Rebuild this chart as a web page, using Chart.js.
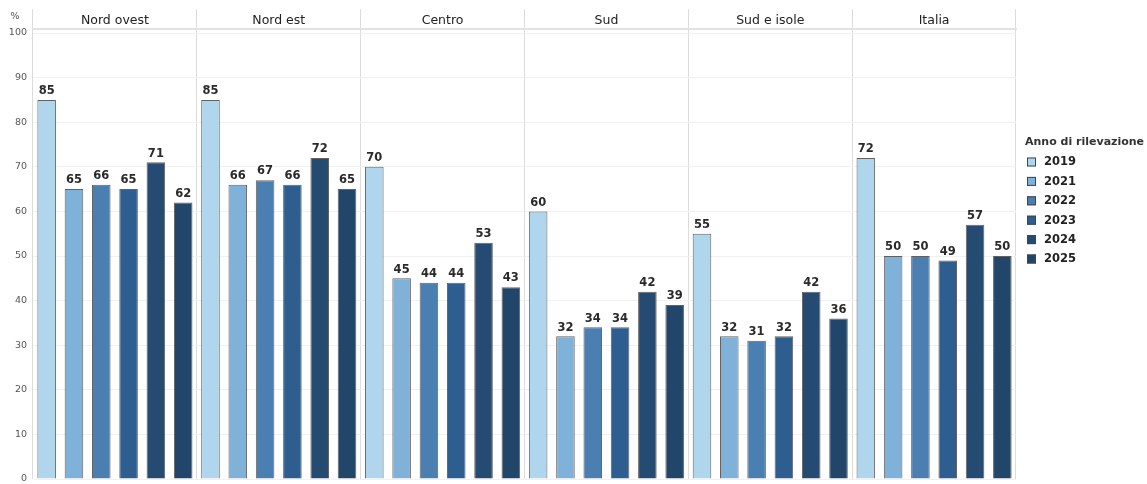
<!DOCTYPE html>
<html>
<head>
<meta charset="utf-8">
<script src="https://cdn.jsdelivr.net/npm/chart.js@4.4.1/dist/chart.umd.min.js"></script>
<style>
  html, body { margin: 0; padding: 0; background: #fff; overflow: hidden; }
  canvas { display: block; }
</style>
</head>
<body>
<canvas id="chart" width="1147" height="484"></canvas>
<script>
// data
const regions = ['Nord ovest', 'Nord est', 'Centro', 'Sud', 'Sud e isole', 'Italia']
const years = ['2019', '2021', '2022', '2023', '2024', '2025']
const values2019 = [85, 85, 70, 60, 55, 72]
const values2021 = [65, 66, 45, 32, 32, 50]
const values2022 = [66, 67, 44, 34, 31, 50]
const values2023 = [65, 66, 44, 34, 32, 49]
const values2024 = [71, 72, 53, 42, 42, 57]
const values2025 = [62, 65, 43, 39, 36, 50]
const yTicks = [0, 10, 20, 30, 40, 50, 60, 70, 80, 90, 100]
const yUnit = '%'
const legendTitle = 'Anno di rilevazione'

const colors = ['#b0d6ee', '#80b1d9', '#4c7fb1', '#2e5e90', '#264b72', '#21466a']
const seriesValues = [values2019, values2021, values2022, values2023, values2024, values2025]
const FONT = '"DejaVu Sans", Verdana, sans-serif'

const datasets = years.map((year, i) => ({
    label: year,
    data: seriesValues[i],
    backgroundColor: colors[i],
    borderColor: 'rgba(45,45,45,0.75)',
    borderWidth: 1,
    borderSkipped: 'bottom'
}))

// numbers above each bar
const valueLabels = {
    id: 'valueLabels',
    afterDatasetsDraw(chart){
        const ctx = chart.ctx
        ctx.save()
        ctx.font = 'bold 11.5px ' + FONT
        ctx.fillStyle = '#2a2a2a'
        ctx.textAlign = 'center'
        ctx.textBaseline = 'bottom'
        chart.data.datasets.forEach((ds, i) => {
            chart.getDatasetMeta(i).data.forEach((bar, j) => {
                ctx.fillText(ds.data[j], bar.x, bar.y - 3)
            })
        })
        ctx.restore()
    }
}

// "%" unit and the legend on the right
const extras = {
    id: 'extras',
    afterDraw(chart){
        const ctx = chart.ctx
        const area = chart.chartArea
        ctx.save()
        ctx.font = '9.5px ' + FONT
        ctx.fillStyle = '#555'
        ctx.textAlign = 'center'
        ctx.textBaseline = 'middle'
        ctx.fillText(yUnit, 15, 17)

        const x = area.right + 9
        ctx.textAlign = 'left'
        ctx.font = 'bold 11px ' + FONT
        ctx.fillStyle = '#333'
        ctx.fillText(legendTitle, x, 142)
        ctx.font = 'bold 11.5px ' + FONT
        chart.data.datasets.forEach((ds, i) => {
            const y = 162 + i * 19.4
            ctx.fillStyle = ds.backgroundColor
            ctx.fillRect(x + 2, y - 4.5, 9, 9)
            ctx.strokeStyle = '#444'
            ctx.lineWidth = 1
            ctx.strokeRect(x + 2.5, y - 4, 8, 8)
            ctx.fillStyle = '#222'
            ctx.fillText(ds.label, x + 19, y + 0.5)
        })
        ctx.restore()
    }
}

const chart = new Chart(document.getElementById('chart'), {
    type: 'bar',
    data: { labels: regions, datasets: datasets },
    plugins: [valueLabels, extras],
    options: {
        responsive: false,
        animation: false,
        devicePixelRatio: 1,
        layout: { padding: { left: 0, right: 131, top: 9, bottom: 5 } },
        datasets: { bar: { categoryPercentage: 1, barPercentage: 0.68 } },
        plugins: {
            legend: { display: false },
            tooltip: { enabled: false }
        },
        scales: {
            x: {
                position: 'top',
                grid: { offset: true, color: '#dcdcdc', lineWidth: 1, tickLength: 20, tickColor: '#dcdcdc' },
                border: { display: true, color: '#e2e2e2', width: 2 },
                ticks: { padding: -19, color: '#222', font: { family: FONT, size: 12.5 } },
                afterFit(scale){ scale.height = 20 }
            },
            y: {
                min: 0,
                max: 100.9,
                grid: { color: '#f1f1f1', drawTicks: false },
                border: { display: false },
                ticks: { stepSize: 10, padding: 6, color: '#555', font: { family: FONT, size: 9.5 } },
                afterBuildTicks(scale){ scale.ticks = yTicks.map(v => ({ value: v })) },
                afterFit(scale){
                    scale.width = 33
                    scale.paddingTop = 0
                    scale.paddingBottom = 0
                }
            }
        }
    }
})
</script>
</body>
</html>
